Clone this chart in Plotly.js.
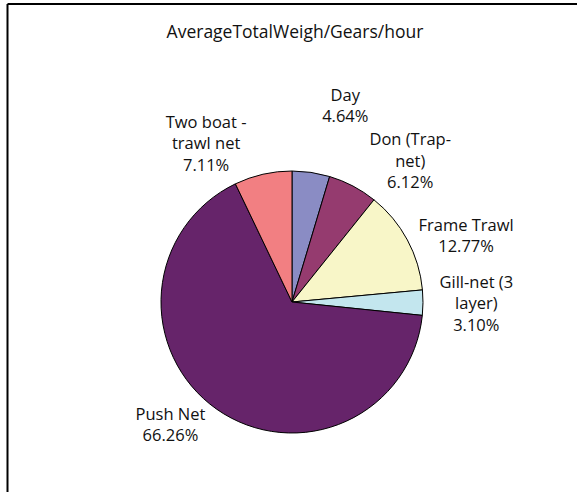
<!DOCTYPE html>
<html>
<head>
<meta charset="utf-8">
<script src="https://cdn.plot.ly/plotly-3.0.1.min.js"></script>
<style>
  body { margin: 0; background: #fff; }
  #plotArea { width: 577px; height: 492px; }
  /* the reference has no leader lines on its labels */
  #plotArea path.textline { display: none; }
</style>
</head>
<body>
<div id="plotArea"></div>
<script>
// gear types, clockwise from 12 o'clock
var gears = ["Day", "Don (Trap-<br>net)", "Frame Trawl", "Gill-net (3<br>layer)", "Push Net", "Two boat -<br>trawl net"];
var weightShare = [4.64, 6.12, 12.77, 3.10, 66.26, 7.11];
var sliceColors = ["#8a8cc4", "#953b6f", "#f8f6c8", "#c3e6ee", "#66246a", "#f27f82"];

var trace = {
    type: "pie",
    labels: gears,
    values: weightShare,
    sort: false,
    direction: "clockwise",
    rotation: 0,
    marker: {colors: sliceColors, line: {color: "#000", width: 1}},
    textposition: "outside",
    texttemplate: "%{label}<br>%{percent:.2%}",
    textfont: {family: "Open Sans, sans-serif", size: 16.5, color: "#111"},
    hoverinfo: "label+percent",
    showlegend: false,
    domain: {x: [161 / 577, 423 / 577], y: [59 / 492, 321 / 492]}
};

var layout = {
    width: 577,
    height: 492,
    margin: {l: 0, r: 0, t: 0, b: 0},
    paper_bgcolor: "#fff",
    title: {
        text: "AverageTotalWeigh/Gears/hour",
        font: {family: "Open Sans, sans-serif", size: 17.5, color: "#111"},
        x: 295 / 577, xanchor: "center",
        y: 1 - 32 / 492, yanchor: "middle"
    },
    // chart frame: top and left edges only show in the crop
    shapes: [
        {type: "line", xref: "paper", yref: "paper", x0: 7.5 / 577, x1: 1, y0: 1 - 4 / 492, y1: 1 - 4 / 492, line: {color: "#000", width: 2}},
        {type: "line", xref: "paper", yref: "paper", x0: 7.5 / 577, x1: 7.5 / 577, y0: 0, y1: 1 - 4 / 492, line: {color: "#000", width: 2}}
    ]
};

Plotly.newPlot("plotArea", [trace], layout, {displayModeBar: false});
</script>
</body>
</html>
